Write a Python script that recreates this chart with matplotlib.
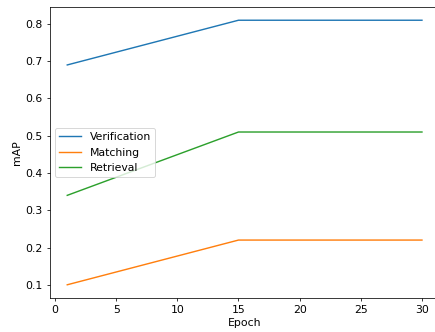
import matplotlib
matplotlib.use("Agg")
import matplotlib.pyplot as plt

epochs = [1, 15, 30]
verification = [0.69, 0.81, 0.81]
matching = [0.10, 0.22, 0.22]
retrieval = [0.34, 0.51, 0.51]

plt.rcParams['font.size'] = 11.5

fig = plt.figure(figsize=(435 / 68, 332 / 68), dpi=68)
# the original is cropped on the right, so the axes run past the canvas edge
ax = fig.add_axes([0.1138, 0.1024, 0.897, 0.8765])

ax.plot(epochs, verification, label='Verification')
ax.plot(epochs, matching, label='Matching')
ax.plot(epochs, retrieval, label='Retrieval')

ax.set_xlabel('Epoch')
ax.set_ylabel('mAP')
ax.legend(loc='center left')

fig.savefig('out.png', dpi=68)
